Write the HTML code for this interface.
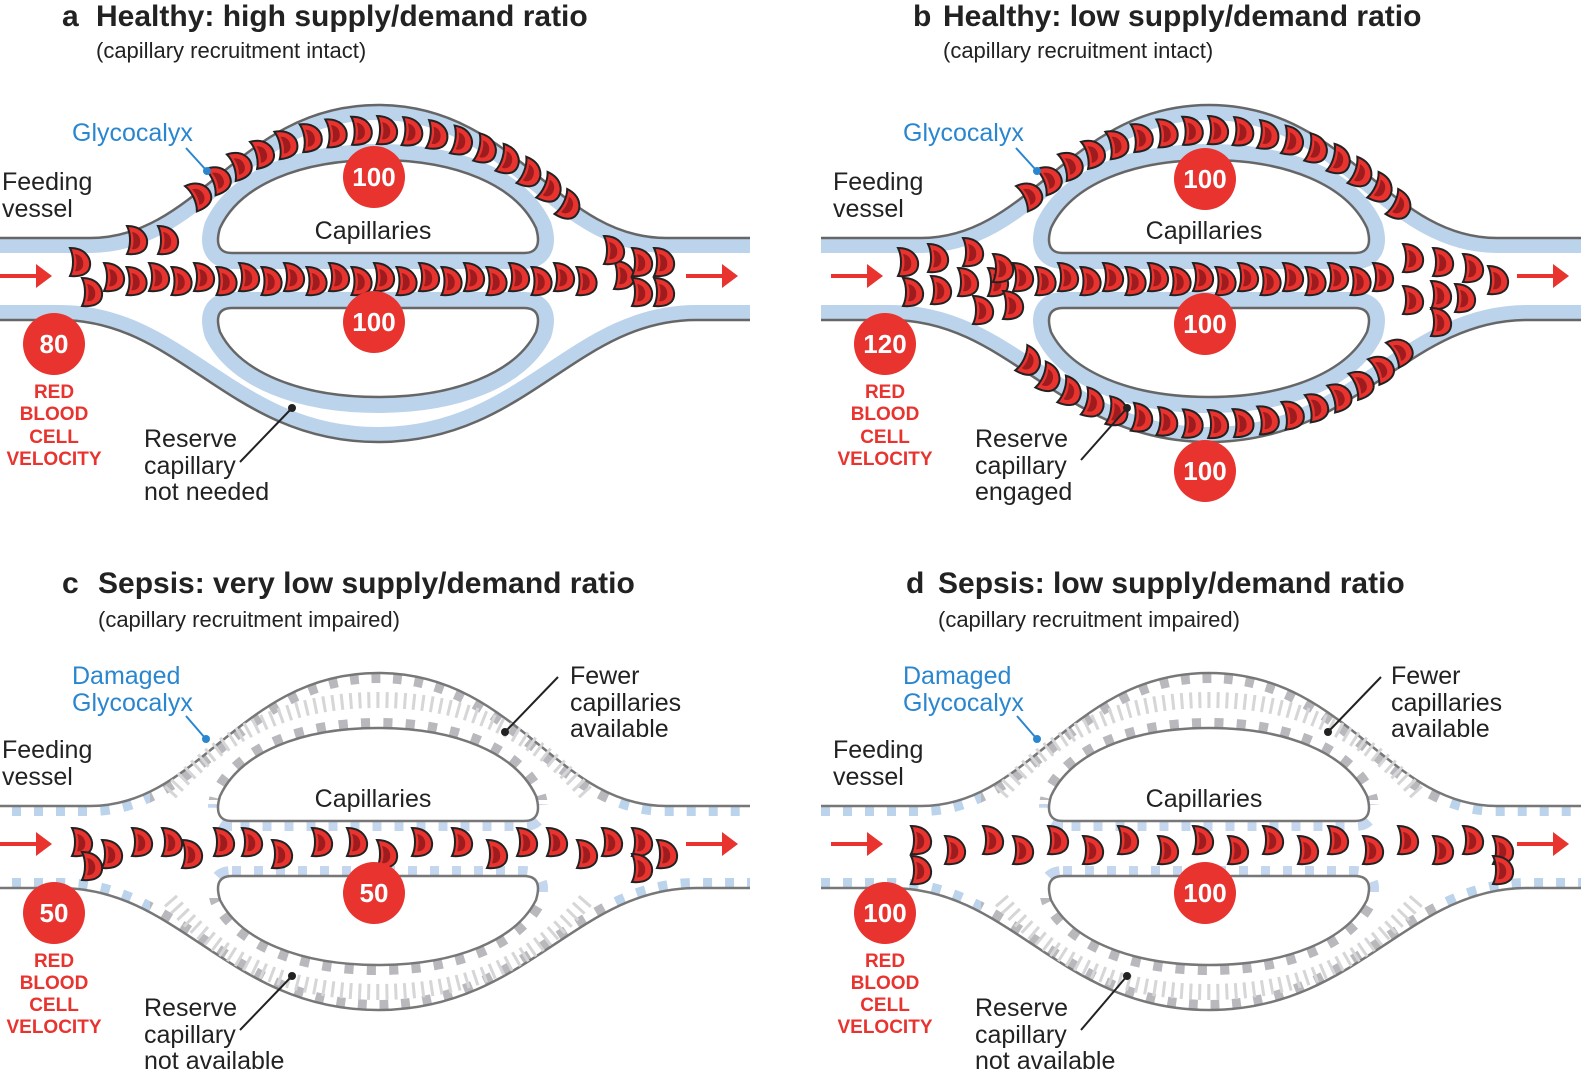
<!DOCTYPE html>
<html><head><meta charset="utf-8"><style>
html,body{margin:0;padding:0;background:#fff;}
svg{display:block;}
text{font-family:"Liberation Sans",sans-serif;}
.t{font-size:30px;font-weight:bold;fill:#222;}
.st{font-size:22px;fill:#222;}
.lb{font-size:25px;fill:#222;}
.bl{font-size:25px;fill:#2a86cf;}
.rv{font-size:19px;font-weight:bold;fill:#e8332f;text-anchor:middle;}
.cn{font-size:26px;font-weight:bold;fill:#fff;text-anchor:middle;}
</style></head><body>
<svg id="s" width="1594" height="1088" viewBox="0 0 1594 1088" xmlns="http://www.w3.org/2000/svg">
<defs>
<path id="TOP" d="M-10,238 L90,238 C200,238 240,105 378,105 C516,105 556,238 666,238 L750,238"/>
<path id="BOT" d="M-10,320 L60,320 C180,320 230,442 378,442 C526,442 576,320 696,320 L750,320"/>
<path id="UI" d="M232,253 C215,253 217,238 220,228 C240,185 300,160 378,160 C456,160 516,185 536,228 C539,238 541,253 524,253 Z"/>
<path id="LI" d="M232,308 L524,308 C541,308 539,322 536,332 C516,372 456,397 378,397 C300,397 240,372 220,332 C217,322 215,308 232,308 Z"/>
<clipPath id="arcClip"><rect x="150" y="60" width="460" height="420"/></clipPath>
<clipPath id="sideClip"><path d="M-20,60 H150 V480 H-20Z M610,60 H760 V480 H610Z"/></clipPath>
<clipPath id="upClip"><rect x="150" y="60" width="460" height="172"/></clipPath>
<clipPath id="dnClip"><rect x="150" y="330" width="460" height="160"/></clipPath>
<clipPath id="midClip"><rect x="150" y="236" width="460" height="88"/></clipPath>
<g id="rbc">
<path d="M-8,-14 C8,-14 13,-3 12,4 C11,12 3,15 -8,14 C-4,6 -4,-6 -8,-14 Z" fill="#e8332f" stroke="#222" stroke-width="2"/>
<path d="M-3,-8 C4,-7 6,-1 5,4 C4,8 0,10 -3,9 C-1,4 -1,-3 -3,-8 Z" fill="#9e1b1e"/>
</g>
<g id="healthy">
<use href="#TOP" stroke="#bcd3ec" stroke-width="30" fill="none"/>
<path d="M-10,238 L90,238 C200,238 240,105 378,105 C516,105 556,238 666,238 L750,238 L750,70 L-10,70 Z" fill="#fff"/>
<use href="#TOP" stroke="#666" stroke-width="2.5" fill="none"/>
<use href="#BOT" stroke="#bcd3ec" stroke-width="30" fill="none"/>
<path d="M-10,320 L60,320 C180,320 230,442 378,442 C526,442 576,320 696,320 L750,320 L750,470 L-10,470 Z" fill="#fff"/>
<use href="#BOT" stroke="#666" stroke-width="2.5" fill="none"/>
<use href="#UI" stroke="#bcd3ec" stroke-width="32" fill="none"/>
<use href="#UI" stroke="#666" stroke-width="2.5" fill="#fff"/>
<use href="#LI" stroke="#bcd3ec" stroke-width="32" fill="none"/>
<use href="#LI" stroke="#666" stroke-width="2.5" fill="#fff"/>
</g>
<g id="sepsis">
<g clip-path="url(#sideClip)">
<use href="#TOP" stroke="#bcd3ec" stroke-width="20" stroke-dasharray="9 13" fill="none"/>
<use href="#BOT" stroke="#bcd3ec" stroke-width="20" stroke-dasharray="9 13" fill="none"/>
</g>
<g clip-path="url(#arcClip)">
<use href="#TOP" stroke="#b9b9bd" stroke-width="20" stroke-dasharray="9 13" fill="none"/>
<use href="#BOT" stroke="#b9b9bd" stroke-width="20" stroke-dasharray="9 13" fill="none"/>
</g>
<path d="M-10,238 L90,238 C200,238 240,105 378,105 C516,105 556,238 666,238 L750,238 L750,70 L-10,70 Z" fill="#fff"/>
<use href="#TOP" stroke="#777" stroke-width="2.5" fill="none"/>
<path d="M-10,320 L60,320 C180,320 230,442 378,442 C526,442 576,320 696,320 L750,320 L750,470 L-10,470 Z" fill="#fff"/>
<use href="#BOT" stroke="#777" stroke-width="2.5" fill="none"/>
<g clip-path="url(#midClip)">
<use href="#UI" stroke="#c5d7ee" stroke-width="20" stroke-dasharray="9 13" fill="none"/>
<use href="#LI" stroke="#c5d7ee" stroke-width="20" stroke-dasharray="9 13" fill="none"/>
</g>
<g clip-path="url(#upClip)"><use href="#UI" stroke="#b9b9bd" stroke-width="20" stroke-dasharray="9 13" fill="none"/></g>
<g clip-path="url(#dnClip)"><use href="#LI" stroke="#b9b9bd" stroke-width="20" stroke-dasharray="9 13" fill="none"/></g>
<path d="M170,225 C220,170 280,132 378,132 C476,132 536,170 586,225" stroke="#d6d6d8" stroke-width="16" stroke-dasharray="3 6" fill="none"/>
<path d="M170,332 C220,390 280,424 378,424 C476,424 536,390 586,332" stroke="#d6d6d8" stroke-width="16" stroke-dasharray="3 6" fill="none"/>
<use href="#UI" stroke="#777" stroke-width="2.5" fill="#fff"/>
<use href="#LI" stroke="#777" stroke-width="2.5" fill="#fff"/>
</g>
<g id="arrows">
<path d="M0,276 H38" stroke="#e8332f" stroke-width="4"/><path d="M36,264 L52,276 L36,288Z" fill="#e8332f"/>
<path d="M686,276 H724" stroke="#e8332f" stroke-width="4"/><path d="M722,264 L738,276 L722,288Z" fill="#e8332f"/>
</g>
</defs>
<path id="upMid" d="M172,222 C220,168 280,130 378,130 C476,130 536,168 584,222" fill="none" stroke="none"/>
<path id="dnMid" d="M172,334 C220,392 280,424 378,424 C476,424 536,392 584,334" fill="none" stroke="none"/>

<use href="#healthy" x="0" y="0"/>
<use href="#healthy" x="831" y="0"/>
<use href="#sepsis" x="0" y="568"/>
<use href="#sepsis" x="831" y="568"/>
<use href="#arrows" x="0" y="0"/>
<use href="#arrows" x="831" y="0"/>
<use href="#arrows" x="0" y="568"/>
<use href="#arrows" x="831" y="568"/>

<g id="cells"></g>

<!-- Panel a -->
<text x="62" y="26" class="t">a</text><text x="96" y="26" class="t">Healthy: high supply/demand ratio</text>
<text x="96" y="58" class="st">(capillary recruitment intact)</text>
<text x="2" y="190" class="lb">Feeding</text><text x="2" y="217" class="lb">vessel</text>
<text x="72" y="141" class="bl">Glycocalyx</text>
<path d="M186,148 L206,170" stroke="#2a86cf" stroke-width="2"/><circle cx="207" cy="171" r="4" fill="#2a86cf"/>
<text x="373" y="239" class="lb" text-anchor="middle">Capillaries</text>
<circle cx="374" cy="177" r="31" fill="#e8332f"/><text x="374" y="186" class="cn">100</text>
<circle cx="374" cy="322" r="31" fill="#e8332f"/><text x="374" y="331" class="cn">100</text>
<circle cx="54" cy="344" r="31" fill="#e8332f"/><text x="54" y="353" class="cn">80</text>
<text class="rv"><tspan x="54" y="398">RED</tspan><tspan x="54" y="420">BLOOD</tspan><tspan x="54" y="443">CELL</tspan><tspan x="54" y="465">VELOCITY</tspan></text>
<text class="lb"><tspan x="144" y="447">Reserve</tspan><tspan x="144" y="474">capillary</tspan><tspan x="144" y="500">not needed</tspan></text>
<path d="M240,462 L292,408" stroke="#222" stroke-width="2"/><circle cx="292" cy="408" r="4" fill="#222"/>

<!-- Panel b -->
<text x="913" y="26" class="t">b</text><text x="943" y="26" class="t">Healthy: low supply/demand ratio</text>
<text x="943" y="58" class="st">(capillary recruitment intact)</text>
<text x="833" y="190" class="lb">Feeding</text><text x="833" y="217" class="lb">vessel</text>
<text x="903" y="141" class="bl">Glycocalyx</text>
<path d="M1016,148 L1036,170" stroke="#2a86cf" stroke-width="2"/><circle cx="1037" cy="171" r="4" fill="#2a86cf"/>
<text x="1204" y="239" class="lb" text-anchor="middle">Capillaries</text>
<circle cx="1205" cy="179" r="31" fill="#e8332f"/><text x="1205" y="188" class="cn">100</text>
<circle cx="1205" cy="324" r="31" fill="#e8332f"/><text x="1205" y="333" class="cn">100</text>
<circle cx="1205" cy="471" r="31" fill="#e8332f"/><text x="1205" y="480" class="cn">100</text>
<circle cx="885" cy="344" r="31" fill="#e8332f"/><text x="885" y="353" class="cn">120</text>
<text class="rv"><tspan x="885" y="398">RED</tspan><tspan x="885" y="420">BLOOD</tspan><tspan x="885" y="443">CELL</tspan><tspan x="885" y="465">VELOCITY</tspan></text>
<text class="lb"><tspan x="975" y="447">Reserve</tspan><tspan x="975" y="474">capillary</tspan><tspan x="975" y="500">engaged</tspan></text>
<path d="M1081,460 L1127,408" stroke="#222" stroke-width="2"/><circle cx="1127" cy="408" r="4" fill="#222"/>

<!-- Panel c -->
<text x="62" y="593" class="t">c</text><text x="98" y="593" class="t">Sepsis: very low supply/demand ratio</text>
<text x="98" y="627" class="st">(capillary recruitment impaired)</text>
<text x="72" y="684" class="bl">Damaged</text><text x="72" y="711" class="bl">Glycocalyx</text>
<path d="M186,716 L205,738" stroke="#2a86cf" stroke-width="2"/><circle cx="206" cy="739" r="4" fill="#2a86cf"/>
<text x="2" y="758" class="lb">Feeding</text><text x="2" y="785" class="lb">vessel</text>
<text class="lb"><tspan x="570" y="684">Fewer</tspan><tspan x="570" y="711">capillaries</tspan><tspan x="570" y="737">available</tspan></text>
<path d="M558,677 L505,732" stroke="#222" stroke-width="2"/><circle cx="505" cy="732" r="4" fill="#222"/>
<text x="373" y="807" class="lb" text-anchor="middle">Capillaries</text>
<circle cx="374" cy="893" r="31" fill="#e8332f"/><text x="374" y="902" class="cn">50</text>
<circle cx="54" cy="913" r="31" fill="#e8332f"/><text x="54" y="922" class="cn">50</text>
<text class="rv"><tspan x="54" y="967">RED</tspan><tspan x="54" y="989">BLOOD</tspan><tspan x="54" y="1011">CELL</tspan><tspan x="54" y="1033">VELOCITY</tspan></text>
<text class="lb"><tspan x="144" y="1016">Reserve</tspan><tspan x="144" y="1043">capillary</tspan><tspan x="144" y="1069">not available</tspan></text>
<path d="M240,1030 L292,976" stroke="#222" stroke-width="2"/><circle cx="292" cy="976" r="4" fill="#222"/>

<!-- Panel d -->
<text x="906" y="593" class="t">d</text><text x="938" y="593" class="t">Sepsis: low supply/demand ratio</text>
<text x="938" y="627" class="st">(capillary recruitment impaired)</text>
<text x="903" y="684" class="bl">Damaged</text><text x="903" y="711" class="bl">Glycocalyx</text>
<path d="M1017,716 L1036,738" stroke="#2a86cf" stroke-width="2"/><circle cx="1037" cy="739" r="4" fill="#2a86cf"/>
<text x="833" y="758" class="lb">Feeding</text><text x="833" y="785" class="lb">vessel</text>
<text class="lb"><tspan x="1391" y="684">Fewer</tspan><tspan x="1391" y="711">capillaries</tspan><tspan x="1391" y="737">available</tspan></text>
<path d="M1381,677 L1328,732" stroke="#222" stroke-width="2"/><circle cx="1328" cy="732" r="4" fill="#222"/>
<text x="1204" y="807" class="lb" text-anchor="middle">Capillaries</text>
<circle cx="1205" cy="893" r="31" fill="#e8332f"/><text x="1205" y="902" class="cn">100</text>
<circle cx="885" cy="913" r="31" fill="#e8332f"/><text x="885" y="922" class="cn">100</text>
<text class="rv"><tspan x="885" y="967">RED</tspan><tspan x="885" y="989">BLOOD</tspan><tspan x="885" y="1011">CELL</tspan><tspan x="885" y="1033">VELOCITY</tspan></text>
<text class="lb"><tspan x="975" y="1016">Reserve</tspan><tspan x="975" y="1043">capillary</tspan><tspan x="975" y="1069">not available</tspan></text>
<path d="M1081,1030 L1127,976" stroke="#222" stroke-width="2"/><circle cx="1127" cy="976" r="4" fill="#222"/>
</svg>
<script>
(function(){
var g=document.getElementById('cells'),h='';
function c(x,y,r){h+='<use href="#rbc" transform="translate('+x.toFixed(1)+','+y.toFixed(1)+') rotate('+(r||0).toFixed(1)+')"/>';}
function along(id,ox,oy,n,t0,t1){var p=document.getElementById(id),L=p.getTotalLength();
 for(var i=0;i<n;i++){var t=t0+(t1-t0)*i/(n-1);var a=p.getPointAtLength(L*t),b=p.getPointAtLength(Math.min(L,L*t+2));
 var ang=Math.atan2(b.y-a.y,b.x-a.x)*180/Math.PI;c(ox+a.x,oy+a.y,ang*0.6);}}
// panel a
var i=0;for(var x=112;x<=600;x+=22.5){c(x,278+(i%2?3:-1));i++;}
c(78,262);c(90,292);c(135,240);c(166,240);
along('upMid',0,0,17,0.08,0.95);
c(622,275);c(612,250);c(640,262);c(640,292);c(662,262);c(662,292);
// panel b
i=0;for(var x=190;x<=560;x+=22.5){c(831+x,278+(i%2?3:-1));i++;}
c(831+75,262);c(831+80,292);c(831+105,258);c(831+108,290);c(831+140,252);c(831+135,282);c(831+165,282);c(831+150,310);c(831+180,305);c(831+170,268);
along('upMid',831,0,17,0.08,0.95);
along('dnMid',831,0,17,0.08,0.95);
c(831+580,258);c(831+610,262);c(831+640,268);c(831+665,280);c(831+580,300);c(831+608,295);c(831+632,298);c(831+608,322);
// panel c
var xs=[80,110,140,170,190,222,250,280,320,355,385,420,460,495,525,555,585,610,640,665];
xs.forEach(function(x,i){c(x,568+278+(i%3==1?8:-4));});c(90,568+298);c(640,568+300);
// panel d
var xd=[88,122,160,190,225,260,295,335,370,405,440,475,505,540,575,610,640,670];
xd.forEach(function(x,i){c(831+x,568+278+(i%2?4:-6));});c(831+88,568+302);c(831+670,568+302);
g.innerHTML=h;
})();
</script>
</body></html>
